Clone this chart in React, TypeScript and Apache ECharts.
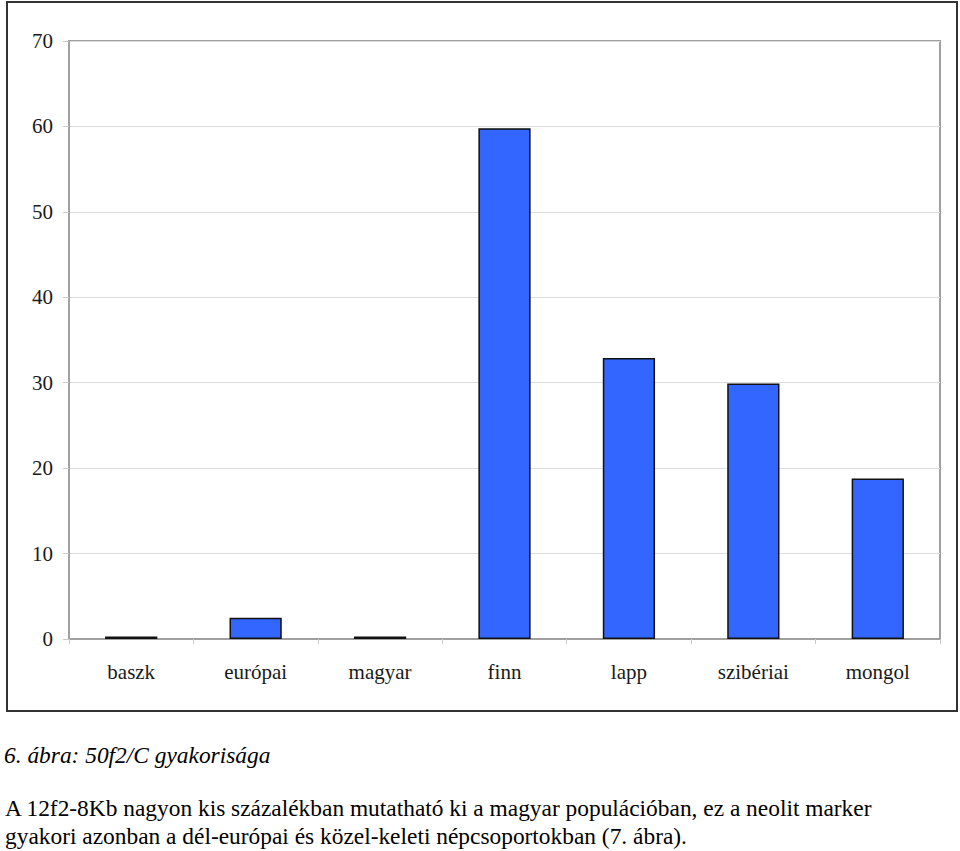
import React, { useEffect, useRef } from "react";
import * as echarts from "echarts";

const categories = ["baszk", "európai", "magyar", "finn", "lapp", "szibériai", "mongol"];
const values = [0.3, 2.5, 0.3, 59.8, 32.9, 29.9, 18.8];
const yTicks = { min: 0, max: 70, interval: 10 };
const caption = "6. ábra: 50f2/C gyakorisága";
const paragraph = [
  "A 12f2-8Kb nagyon kis százalékban mutatható ki a magyar populációban, ez a neolit marker",
  "gyakori azonban a dél-európai és közel-keleti népcsoportokban (7. ábra).",
];

const SERIF = "Liberation Serif";

export default function App() {
  const ref = useRef<HTMLDivElement>(null);
  useEffect(() => {
    document.body.style.margin = "0";
    const chart = echarts.init(ref.current!, null, { renderer: "svg" });
    chart.setOption({
      animation: false,
      backgroundColor: "#ffffff",
      grid: {
        left: 69,
        right: 20,
        top: 41,
        bottom: 81,
        show: true,
        borderColor: "#a0a0a0",
        borderWidth: 2,
      },
      xAxis: {
        type: "category",
        data: categories,
        axisLine: { show: true, lineStyle: { color: "#a0a0a0", width: 2 } },
        axisTick: { show: true, length: 5, interval: 0, lineStyle: { color: "#c8c8c8", width: 1 } },
        axisLabel: {
          interval: 0,
          margin: 22,
          fontFamily: SERIF,
          fontSize: 21,
          color: "#1a1a1a",
        },
      },
      yAxis: {
        type: "value",
        min: yTicks.min,
        max: yTicks.max,
        interval: yTicks.interval,
        axisLine: { show: true, lineStyle: { color: "#a0a0a0", width: 2 } },
        axisTick: { show: true, length: 6, lineStyle: { color: "#c8c8c8" } },
        splitLine: { show: true, lineStyle: { color: "#dcdcdc", width: 1 } },
        axisLabel: {
          margin: 16,
          fontFamily: SERIF,
          fontSize: 21,
          color: "#1a1a1a",
        },
      },
      series: [
        {
          type: "bar",
          data: values,
          barWidth: "42%",
          itemStyle: { color: "#3366ff", borderColor: "#111", borderWidth: 1.5 },
        },
      ],
      graphic: [
        {
          type: "rect",
          shape: { x: 7, y: 2, width: 950, height: 709 },
          style: { fill: "none", stroke: "#333", lineWidth: 2 },
          silent: true,
        },
      ],
    });
    return () => chart.dispose();
  }, []);
  const textBase: React.CSSProperties = {
    position: "absolute",
    fontFamily: SERIF,
    fontSize: 23.4,
    lineHeight: "28px",
    color: "#000",
    whiteSpace: "nowrap",
    margin: 0,
  };
  return (
    <div style={{ position: "relative", width: 960, height: 851, background: "#fff" }}>
      <div ref={ref} style={{ position: "absolute", left: 0, top: 0, width: 960, height: 720 }} />
      <div style={{ ...textBase, left: 4, top: 741, fontStyle: "italic" }}>{caption}</div>
      <div style={{ ...textBase, left: 5, top: 794 }}>{paragraph[0]}</div>
      <div style={{ ...textBase, left: 5, top: 822 }}>{paragraph[1]}</div>
    </div>
  );
}
